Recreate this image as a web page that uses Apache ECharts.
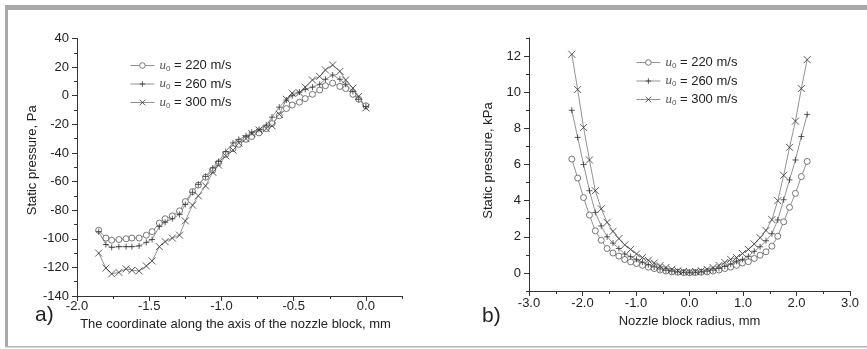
<!DOCTYPE html>
<html><head><meta charset="utf-8">
<script src="https://cdn.jsdelivr.net/npm/echarts@6/dist/echarts.min.js"></script>
<style>html,body{margin:0;padding:0;background:#fff}#c{width:867px;height:349px}</style>
</head><body><div id="c"></div>
<script>
// ---- data: panel a) ----
const leftX = [-1.85,-1.80,-1.76,-1.71,-1.66,-1.62,-1.57,-1.52,-1.48,-1.43,-1.39,-1.34,-1.29,-1.25,-1.20,-1.16,-1.11,-1.06,-1.02,-0.97,-0.92,-0.88,-0.83,-0.79,-0.74,-0.69,-0.65,-0.60,-0.55,-0.51,-0.46,-0.42,-0.37,-0.32,-0.28,-0.23,-0.18,-0.14,-0.09,-0.05,0.00];
const left220 = [-94,-99.5,-101,-100.5,-100,-99.5,-99.5,-97.5,-95,-89,-86,-84,-80.5,-74,-67,-62.5,-57,-52,-47,-41,-37,-34,-30.5,-28.5,-26,-23,-19.5,-14,-9,-6.5,-4.5,-2,1,4,7,8.8,6.5,5,1,-2.5,-7];
const left260 = [-95,-104,-106,-105.5,-105.5,-105.5,-105,-102.5,-100.5,-91.5,-88.5,-86,-83,-76,-67.5,-62,-56.5,-50.5,-46,-39,-33,-30.5,-28,-25.5,-23.5,-20.5,-15,-8,-3,0,2.5,4.5,6,8,11.5,14.5,11.5,8,3,-2.5,-7.5];
const left300 = [-110,-120.5,-124.5,-123.5,-121,-122,-122.5,-119,-115.5,-105.5,-102,-99.5,-97.5,-87.5,-76.5,-70,-63,-53.5,-48.5,-42,-38,-33,-30,-26.5,-24,-23,-21,-13,-2.5,1.8,2,6,11,13.5,18,21.5,17,11,5.3,-0.5,-8.5];
const leftXTicks = [-2.0,-1.5,-1.0,-0.5,0.0];
const leftXMinor = [-1.75,-1.25,-0.75,-0.25,0.25];
// ---- data: panel b) ----
const rightX = [-2.20,-2.09,-1.98,-1.87,-1.76,-1.65,-1.54,-1.43,-1.32,-1.21,-1.10,-0.99,-0.88,-0.77,-0.66,-0.55,-0.44,-0.33,-0.22,-0.11,0.00,0.11,0.22,0.33,0.44,0.55,0.66,0.77,0.88,0.99,1.10,1.21,1.32,1.43,1.54,1.65,1.76,1.87,1.98,2.09,2.20];
const right220 = [6.3,5.25,4.17,3.2,2.33,1.81,1.35,1.1,0.93,0.74,0.61,0.52,0.42,0.32,0.24,0.16,0.1,0.06,0.04,0.02,0.01,0.02,0.04,0.06,0.1,0.16,0.24,0.32,0.42,0.55,0.62,0.8,0.98,1.17,1.48,2.03,2.83,3.63,4.4,5.33,6.17];
const right260 = [9.0,7.5,6.0,4.55,3.35,2.6,2.0,1.65,1.35,1.05,0.9,0.75,0.6,0.45,0.33,0.22,0.15,0.1,0.06,0.04,0.03,0.04,0.06,0.1,0.16,0.25,0.36,0.5,0.65,0.75,0.92,1.2,1.45,1.78,2.17,2.93,4.05,5.15,6.25,7.55,8.77];
const right300 = [12.1,10.15,8.05,6.25,4.55,3.55,2.8,2.3,1.9,1.55,1.3,1.05,0.85,0.7,0.55,0.4,0.3,0.2,0.12,0.08,0.05,0.08,0.12,0.2,0.3,0.42,0.58,0.75,0.85,1.07,1.3,1.6,1.95,2.35,2.95,4.0,5.4,6.95,8.4,10.2,11.8];
const rightYTicks = [0,2,4,6,8,10,12];
const rightYMinor = [-1,1,3,5,7,9,11,13];
const names = ['u0 = 220 m/s','u0 = 260 m/s','u0 = 300 m/s'];

const FONT = 'Liberation Sans';
const TXT = '#222';
const AX = '#333';
const symbols = ['circle','path://M0,5L10,5M5,0L5,10','path://M0,0L10,10M10,0L0,10'];
const symSize = [6,6,7];

function mk(name, idx, xs, ys, gi){
  const style = idx===0
    ? {color:'#fff', borderColor:'#555', borderWidth:0.8}
    : {color:'#333', borderColor:'#333', borderWidth:0.8};
  return {
    type:'line', name:name, xAxisIndex: gi, yAxisIndex: gi,
    data: xs.map((x,i)=>[x, ys[i]]),
    symbol: symbols[idx], symbolSize: symSize[idx], showSymbol:true,
    lineStyle:{color:'#777', width:0.8},
    itemStyle:style,
    animation:false, silent:true, z: 3
  };
}
function axLine(){ return {show:true, onZero:false, lineStyle:{color:AX, width:1}}; }
const labelStyle = {fontFamily:FONT, fontSize:13, color:TXT};
const nameStyle = {fontFamily:FONT, fontSize:13, color:TXT};

const legendFmt = n => '{i|u}{s|0}{t| ' + n.split(' ').slice(1).join(' ') + '}';
const legendText = {
  fontFamily:FONT, fontSize:13, color:TXT,
  rich:{
    i:{fontFamily:'Liberation Serif', fontStyle:'italic', fontSize:13, color:'#555'},
    s:{fontFamily:FONT, fontSize:8, color:'#555', verticalAlign:'bottom', padding:[6,0,0,0]},
    t:{fontFamily:FONT, fontSize:13, color:TXT}
  }
};
const legendBase = {orient:'vertical', itemWidth:24, itemHeight:7, itemGap:5,
  selectedMode:false, formatter:legendFmt, textStyle:legendText,
  lineStyle:{width:0.8, color:'#777'}, itemStyle:{borderWidth:0.8}};

const option = {
  animation:false,
  backgroundColor:'#fff',
  grid:[
    {left:77, top:38.5, width:325, height:257.5},
    {left:529, top:38, width:321, height:253}
  ],
  xAxis:[
    {gridIndex:0, type:'value', min:-2, max:0.25, interval:0.5, position:'bottom',
     axisLine:axLine(), splitLine:{show:false},
     axisTick:{show:true, length:5, customValues:leftXTicks, lineStyle:{color:AX}},
     axisLabel:{customValues:leftXTicks, formatter:v=>v.toFixed(1), margin:4, ...labelStyle},
     name:'The coordinate along the axis of the nozzle block, mm', nameLocation:'middle', nameGap:15,
     nameTextStyle:{...nameStyle, padding:[0,8,0,0]}},
    {gridIndex:1, type:'value', min:-3, max:3, interval:1, position:'bottom',
     axisLine:axLine(), splitLine:{show:false},
     axisTick:{show:true, length:5, lineStyle:{color:AX}},
     minorTick:{show:true, splitNumber:2, length:3, lineStyle:{color:AX}},
     axisLabel:{formatter:v=>v.toFixed(1), margin:6, ...labelStyle},
     name:'Nozzle block radius, mm', nameLocation:'middle', nameGap:20, nameTextStyle:nameStyle},
    {gridIndex:0, type:'value', min:-2, max:0.25, interval:0.5, position:'bottom',
     axisLine:{show:false, onZero:false}, splitLine:{show:false}, axisLabel:{show:false},
     axisTick:{show:true, length:3, customValues:leftXMinor, lineStyle:{color:AX}}}
  ],
  yAxis:[
    {gridIndex:0, type:'value', min:-140, max:40, interval:20, position:'left',
     axisLine:axLine(), splitLine:{show:false},
     axisTick:{show:true, length:5, lineStyle:{color:AX}},
     minorTick:{show:true, splitNumber:2, length:3, lineStyle:{color:AX}},
     axisLabel:{margin:8, ...labelStyle},
     name:'Static pressure, Pa', nameLocation:'middle', nameGap:38,
     nameTextStyle:{...nameStyle, padding:[0,0,0,14]}},
    {gridIndex:1, type:'value', min:-1, max:13, interval:1, position:'left',
     axisLine:axLine(), splitLine:{show:false},
     axisTick:{show:true, length:5, customValues:rightYTicks, lineStyle:{color:AX}},
     axisLabel:{customValues:rightYTicks, margin:8, ...labelStyle},
     name:'Static pressure, kPa', nameLocation:'middle', nameGap:34,
     nameTextStyle:{...nameStyle, padding:[0,0,0,8]}},
    {gridIndex:1, type:'value', min:-1, max:13, interval:1, position:'left',
     axisLine:{show:false, onZero:false}, splitLine:{show:false}, axisLabel:{show:false},
     axisTick:{show:true, length:3, customValues:rightYMinor, lineStyle:{color:AX}}}
  ],
  legend:[
    {...legendBase, data:names, left:125, top:54},
    {...legendBase, data:names, left:631, top:51}
  ],
  series:[
    mk(names[0],0,leftX,left220,0),
    mk(names[1],1,leftX,left260,0),
    mk(names[2],2,leftX,left300,0),
    mk(names[0],0,rightX,right220,1),
    mk(names[1],1,rightX,right260,1),
    mk(names[2],2,rightX,right300,1)
  ],
  graphic:[
    {type:'rect', shape:{x:5, y:5, width:862, height:5}, style:{fill:'#a8a8a8'}, silent:true},
    {type:'rect', shape:{x:5, y:5, width:3, height:342}, style:{fill:'#a8a8a8'}, silent:true},
    {type:'rect', shape:{x:5, y:346, width:862, height:1.5}, style:{fill:'#b5b5b5'}, silent:true},
    {type:'text', left:35, top:305, style:{text:'a)', fontFamily:FONT, fontSize:21, fill:TXT}},
    {type:'text', left:482, top:306, style:{text:'b)', fontFamily:FONT, fontSize:21, fill:TXT}}
  ]
};
const chart = echarts.init(document.getElementById('c'), null, {renderer:'canvas'});
chart.setOption(option);
</script></body></html>
